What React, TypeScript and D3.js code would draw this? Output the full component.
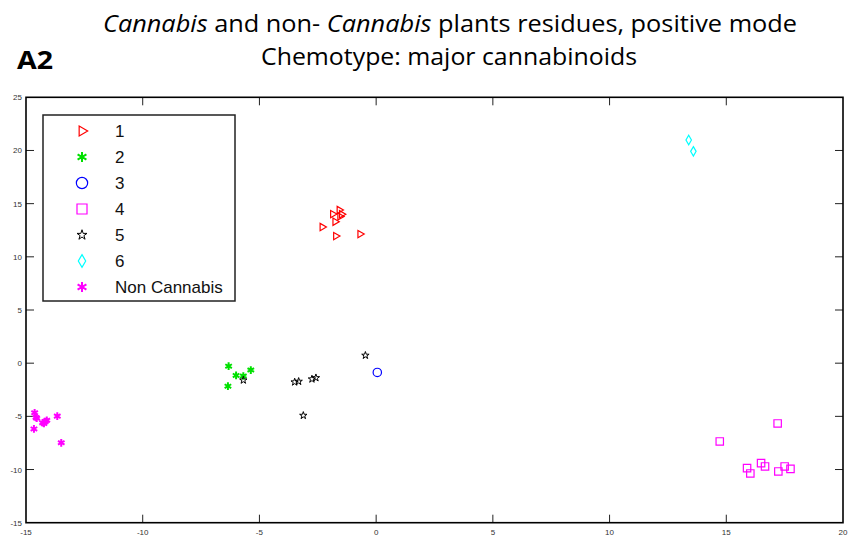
import React, { useEffect, useRef } from 'react';
import * as d3 from 'd3';

// chemotype groups, [x, y] per sample
const group1 = [[-1.86, 14.02], [-1.58, 14.4], [-1.48, 14.0], [-1.55, 13.8], [-1.76, 13.3], [-2.31, 12.8], [-1.73, 11.95], [-0.69, 12.14]];
const group2 = [[-6.32, -0.28], [-6.0, -1.15], [-5.69, -1.2], [-5.37, -0.65], [-6.35, -2.16]];
const group3 = [[0.05, -0.87]];
const group4 = [[14.72, -7.36], [17.2, -5.67], [15.89, -9.87], [16.03, -10.37], [16.49, -9.4], [16.66, -9.71], [17.23, -10.18], [17.5, -9.71], [17.75, -9.94]];
const group5 = [[-5.69, -1.6], [-3.49, -1.78], [-3.32, -1.72], [-2.75, -1.5], [-2.58, -1.38], [-3.12, -4.92], [-0.46, 0.73]];
const group6 = [[13.39, 20.98], [13.59, 19.92]];
const nonCannabis = [[-14.63, -4.67], [-14.57, -5.1], [-14.54, -5.17], [-14.29, -5.6], [-14.23, -5.67], [-14.17, -5.48], [-14.11, -5.36], [-13.66, -4.98], [-14.66, -6.18], [-13.49, -7.49]];

const legendLabels = ['1', '2', '3', '4', '5', '6', 'Non Cannabis'];
const xTicks = [-15, -10, -5, 0, 5, 10, 15, 20];
const yTicks = [-15, -10, -5, 0, 5, 10, 15, 20, 25];

const series = [
  { data: group1, color: '#ff0000', marker: 'triangle' },
  { data: group2, color: '#00e000', marker: 'asterisk' },
  { data: group3, color: '#0000ff', marker: 'circle' },
  { data: group4, color: '#ff00ff', marker: 'square' },
  { data: group5, color: '#000000', marker: 'star' },
  { data: group6, color: '#00ffff', marker: 'diamond' },
  { data: nonCannabis, color: '#ff00ff', marker: 'asterisk' },
];

function drawMarker(g, marker, color, big) {
  let k = big ? 1.35 : 1;
  let path;
  let rot = 0;
  let sw = 1.2;
  if (marker === 'triangle') {
    path = d3.symbol().type(d3.symbolTriangle2).size(38 * k * k)();
    rot = 90;
  } else if (marker === 'asterisk') {
    path = d3.symbol().type(d3.symbolAsterisk).size(40 * k * k)();
    sw = 2;
  } else if (marker === 'circle') {
    path = d3.symbol().type(d3.symbolCircle).size(55 * k * k)();
  } else if (marker === 'square') {
    path = d3.symbol().type(d3.symbolSquare).size(55 * k * k)();
  } else if (marker === 'star') {
    path = d3.symbol().type(d3.symbolStar).size(17 * k * k)();
    sw = 1;
  } else {
    path = d3.symbol().type(d3.symbolDiamond).size(26 * k * k)();
  }
  g.append('path')
    .attr('d', path)
    .attr('transform', 'rotate(' + rot + ')')
    .attr('fill', 'none')
    .attr('stroke', color)
    .attr('stroke-width', sw);
}

export default function App() {
  const ref = useRef(null);

  useEffect(() => {
    const width = 856;
    const height = 537;
    const svg = d3.select(ref.current);
    svg.selectAll('*').remove();

    const x = d3.scaleLinear().domain([-15, 20]).range([26, 843]);
    const y = d3.scaleLinear().domain([-15, 25]).range([522.7, 97.3]);

    svg.append('rect').attr('width', width).attr('height', height).attr('fill', 'white');

    // titles
    const t1 = svg.append('text')
      .attr('x', 450).attr('y', 32)
      .attr('text-anchor', 'middle')
      .attr('textLength', 694).attr('lengthAdjust', 'spacingAndGlyphs')
      .style('font-family', 'Open Sans, sans-serif').style('font-size', '23px').attr('fill', '#000');
    t1.append('tspan').style('font-style', 'italic').text('Cannabis');
    t1.append('tspan').text(' and non- ');
    t1.append('tspan').style('font-style', 'italic').text('Cannabis');
    t1.append('tspan').text(' plants residues, positive mode');

    svg.append('text')
      .attr('x', 449).attr('y', 65)
      .attr('text-anchor', 'middle')
      .attr('textLength', 376).attr('lengthAdjust', 'spacingAndGlyphs')
      .style('font-family', 'Open Sans, sans-serif').style('font-size', '23px').attr('fill', '#000')
      .text('Chemotype:  major cannabinoids');

    svg.append('text')
      .attr('x', 17).attr('y', 69)
      .attr('textLength', 36).attr('lengthAdjust', 'spacingAndGlyphs')
      .style('font-family', 'Open Sans, sans-serif').style('font-size', '25px').style('font-weight', 'bold')
      .text('A2');

    // inward ticks on all four sides
    const tickLen = 8;
    xTicks.slice(1, -1).forEach(function (t) {
      svg.append('line').attr('x1', x(t)).attr('x2', x(t)).attr('y1', y(-15)).attr('y2', y(-15) - tickLen).attr('stroke', '#222');
      svg.append('line').attr('x1', x(t)).attr('x2', x(t)).attr('y1', y(25)).attr('y2', y(25) + tickLen).attr('stroke', '#222');
    });
    yTicks.slice(1, -1).forEach(function (t) {
      svg.append('line').attr('x1', x(-15)).attr('x2', x(-15) + tickLen).attr('y1', y(t)).attr('y2', y(t)).attr('stroke', '#222');
      svg.append('line').attr('x1', x(20)).attr('x2', x(20) - tickLen).attr('y1', y(t)).attr('y2', y(t)).attr('stroke', '#222');
    });

    // frame
    svg.append('rect')
      .attr('x', x(-15)).attr('y', y(25))
      .attr('width', x(20) - x(-15)).attr('height', y(-15) - y(25))
      .attr('fill', 'none').attr('stroke', '#000').attr('stroke-width', 1.6);

    // tick labels
    svg.selectAll('.xlab').data(xTicks).enter().append('text')
      .attr('class', 'xlab')
      .attr('x', d => x(d)).attr('y', 535)
      .attr('text-anchor', 'middle')
      .style('font-family', 'Liberation Sans, Arial, sans-serif').style('font-size', '8px').attr('fill', '#333')
      .text(d => d);
    svg.selectAll('.ylab').data(yTicks).enter().append('text')
      .attr('class', 'ylab')
      .attr('x', 22).attr('y', d => y(d) + 3)
      .attr('text-anchor', 'end')
      .style('font-family', 'Liberation Sans, Arial, sans-serif').style('font-size', '8px').attr('fill', '#333')
      .text(d => d);

    // points
    series.forEach(function (s) {
      s.data.forEach(function (p) {
        const g = svg.append('g').attr('transform', 'translate(' + x(p[0]) + ',' + y(p[1]) + ')');
        drawMarker(g, s.marker, s.color, false);
      });
    });

    // legend
    svg.append('rect')
      .attr('x', 43).attr('y', 115).attr('width', 192).attr('height', 186)
      .attr('fill', 'white').attr('stroke', '#222').attr('stroke-width', 1.5);
    series.forEach(function (s, i) {
      const row = svg.append('g').attr('transform', 'translate(0,' + (131 + i * 26) + ')');
      const m = row.append('g').attr('transform', 'translate(82,0)');
      drawMarker(m, s.marker, s.color, true);
      row.append('text')
        .attr('x', 115).attr('y', 6)
        .style('font-family', 'Liberation Sans, Arial, sans-serif').style('font-size', '17px').attr('fill', '#111')
        .text(legendLabels[i]);
    });
  }, []);

  return (
    <svg ref={ref} width={856} height={537} style={{ position: 'absolute', left: 0, top: 0 }}></svg>
  );
}
